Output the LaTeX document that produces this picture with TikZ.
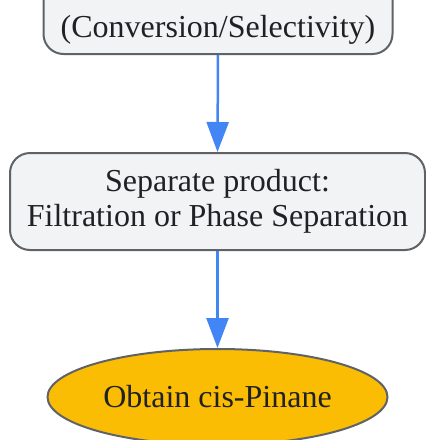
\documentclass[tikz,border=0pt]{standalone}
\usepackage{fontspec}
\setmainfont{Liberation Serif}
\usetikzlibrary{shapes,arrows,arrows.meta}
\definecolor{stepfill}{HTML}{F1F3F4}
\definecolor{stepdraw}{HTML}{5F6368}
\definecolor{flowblue}{HTML}{4285F4}
\definecolor{goalfill}{HTML}{FBBC04}
\definecolor{textdark}{HTML}{202124}
\tikzstyle{line} = [draw=flowblue, line width=2.5pt, -{Triangle[length=30pt, width=22pt]}]
\tikzstyle{stepbox} = [rectangle, draw=stepdraw, fill=stepfill, line width=2pt, rounded corners=20pt, minimum height=97pt, align=center, text=textdark, node distance=196pt, font=\fontsize{32}{34.5}\selectfont]
\tikzstyle{goal} = [ellipse, draw=stepdraw, fill=goalfill, line width=2pt, minimum width=340pt, minimum height=96pt, text=textdark, node distance=196pt, font=\fontsize{32}{34}\selectfont]

\begin{document}
\begin{tikzpicture}
		\useasboundingbox (0,0) rectangle (426pt,-440pt);
		\node [stepbox, minimum width=349pt, text height=71pt, text depth=7pt] (conv) at (218pt,-5.5pt) {(Conversion/Selectivity)};
		\node [stepbox, below of = conv, minimum width=415pt, xshift=-0.5pt] (sep) {Separate product:\\[1pt]Filtration or Phase Separation};
		\path [line] (conv.south) to (sep.north);
		
		\node [goal, below of = sep, node distance = 195.5pt] (pinane) {Obtain cis-Pinane};
		\path [line] (sep.south) to (pinane.north);
\end{tikzpicture}
\end{document}
